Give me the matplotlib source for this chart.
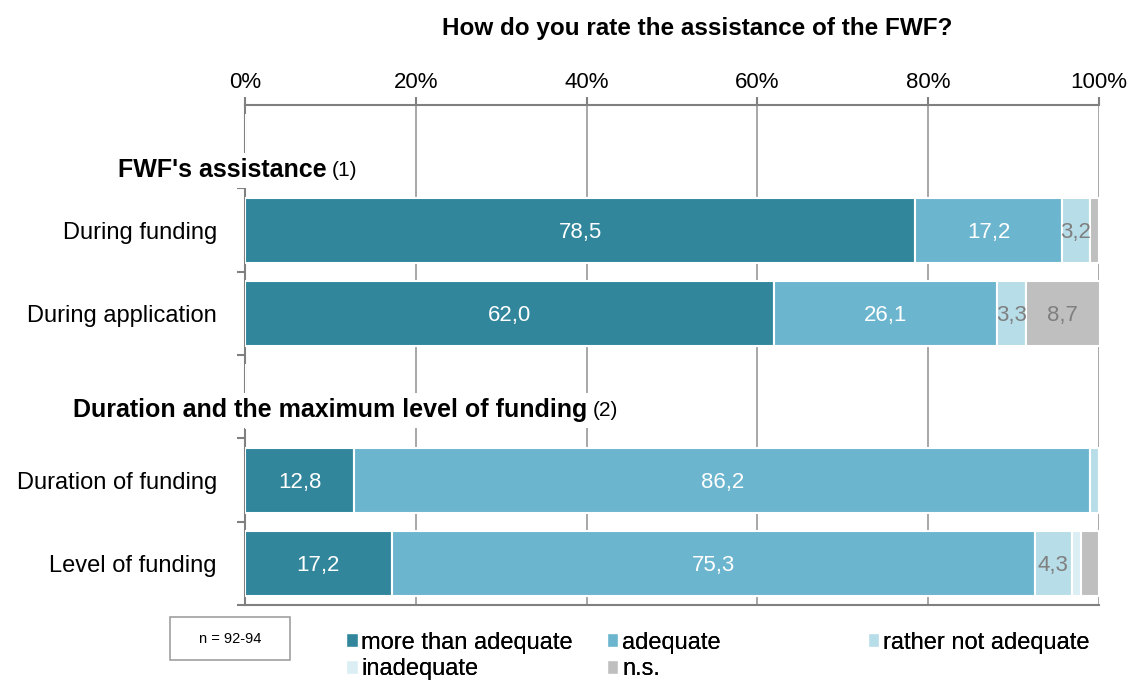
import matplotlib.pyplot as plt
from matplotlib.patches import Patch, Rectangle

plt.rcParams['font.family'] = ['Liberation Sans', 'DejaVu Sans']

# rows from top to bottom; header rows are left empty
rows = ['', 'During funding', 'During application', '', 'Duration of funding', 'Level of funding']
headers = [(0, 0.28, -14.9, "FWF's assistance", '(1)'),
           (3, 0.16, -20.1, 'Duration and the maximum level of funding', '(2)')]

series = ['more than adequate', 'adequate', 'rather not adequate', 'inadequate', 'n.s.']
more_than_adequate = [0, 78.5, 62.0, 0, 12.8, 17.2]
adequate = [0, 17.2, 26.1, 0, 86.2, 75.3]
rather_not_adequate = [0, 3.2, 3.3, 0, 1.0, 4.3]
inadequate = [0, 0, 0, 0, 0, 1.1]
not_specified = [0, 1.1, 8.7, 0, 0, 2.1]

colors = ['#31869B', '#6BB5CE', '#B7DDE8', '#DAEEF3', '#BFBFBF']
label_colors = ['white', 'white', '#7F7F7F', '#7F7F7F', '#7F7F7F']

fig = plt.figure(figsize=(11.34, 6.82), dpi=100)
ax = fig.add_axes([0.216, 0.1129, 0.7531, 0.7331])

y = list(range(len(rows)))
left = [0] * len(rows)
for name, vals, col, lcol in zip(series,
                                  [more_than_adequate, adequate, rather_not_adequate, inadequate, not_specified],
                                  colors, label_colors):
    bars = ax.barh(y, vals, left=left, height=0.78, color=col, edgecolor='white', linewidth=1.5, label=name, zorder=3)
    for b, v in zip(bars, vals):
        if v >= 3:
            ax.text(b.get_x() + b.get_width() / 2, b.get_y() + b.get_height() / 2, f'{v:.1f}'.replace('.', ','),
                    ha='center', va='center_baseline', color=lcol, fontsize=16, zorder=4)
    left = [l + v for l, v in zip(left, vals)]

ax.set_xlim(0, 100)
ax.set_ylim(len(rows) - 0.5, -0.5)

# category labels
for i, r in enumerate(rows):
    if r:
        ax.text(-3.3, i, r, ha='right', va='center_baseline', fontsize=17)

# section headers, bold part + normal note
for i, dy, x0, bold, note in headers:
    t = ax.text(x0, i + dy, bold, ha='left', va='center', fontsize=18,
                fontweight='bold', zorder=5, clip_on=False,
                bbox=dict(facecolor='white', edgecolor='none', pad=4))
    ax.annotate(note, xy=(1, 0.5), xycoords=t, xytext=(4, 0), textcoords='offset points',
                ha='left', va='center', fontsize=15, zorder=5,
                bbox=dict(facecolor='white', edgecolor='none', pad=2))

# axes styling
ax.xaxis.tick_top()
ax.set_xticks([0, 20, 40, 60, 80, 100])
ax.set_xticklabels(['0%', '20%', '40%', '60%', '80%', '100%'], fontsize=16)
ax.tick_params(axis='x', length=6, width=1.5, color='#808080', pad=3)
ax.set_yticks([i + 0.5 for i in range(len(rows))])
ax.set_yticklabels([])
ax.tick_params(axis='y', length=6, width=1.5, color='#808080')
ax.grid(axis='x', color='#A0A0A0', linewidth=1.3, zorder=1)
for s in ['top', 'left', 'bottom']:
    ax.spines[s].set_color('#808080')
    ax.spines[s].set_linewidth(1.5)
ax.spines['right'].set_visible(False)

fig.text(0.615, 0.958, 'How do you rate the assistance of the FWF?', ha='center', va='center',
         fontsize=17.5, fontweight='bold')

# legend, one column at a time so the columns sit at fixed positions
handles = [Patch(facecolor=c, edgecolor='white') for c in colors]
columns = [([0, 3], 0.305), ([1, 4], 0.535), ([2], 0.765)]
for idx, xpos in columns:
    leg = fig.legend([handles[k] for k in idx], [series[k] for k in idx], loc='upper left',
                     bbox_to_anchor=(xpos, 0.074), frameon=False, fontsize=17, handlelength=0.5,
                     handleheight=0.5, handletextpad=0.15, labelspacing=0.2, borderpad=0, borderaxespad=0)
    fig.add_artist(leg)

# sample size box
fig.add_artist(Rectangle((0.150, 0.032), 0.106, 0.063, transform=fig.transFigure,
                         facecolor='white', edgecolor='#A0A0A0', linewidth=1.2))
fig.text(0.203, 0.0635, 'n = 92-94', ha='center', va='center', fontsize=10.5)

fig.savefig('out.png', dpi=100)
